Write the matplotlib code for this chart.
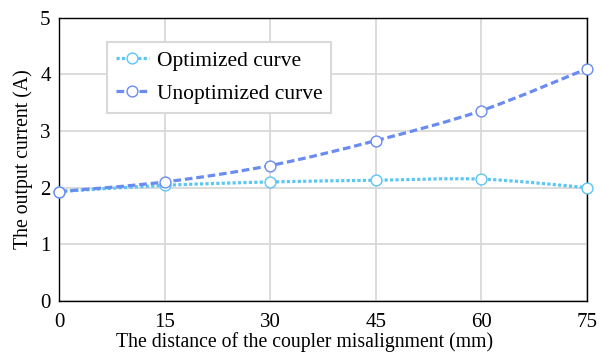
import matplotlib
matplotlib.use("Agg")
import matplotlib.pyplot as plt
from matplotlib.path import Path
from matplotlib.patches import PathPatch
from matplotlib.lines import Line2D

# data
distance = [0, 15, 30, 45, 60, 75]
optimized = [1.93, 2.04, 2.10, 2.13, 2.15, 2.00]
unoptimized = [1.93, 2.10, 2.39, 2.83, 3.36, 4.10]

plt.rcParams['font.family'] = ['Liberation Serif', 'DejaVu Serif']


def smooth_path(xs, ys, k=1/6):
    # bezier path through the points (like a spreadsheet "smoothed line")
    verts = [(xs[0], ys[0])]
    codes = [Path.MOVETO]
    n = len(xs)
    for i in range(n - 1):
        x0, y0 = xs[max(i - 1, 0)], ys[max(i - 1, 0)]
        x1, y1 = xs[i], ys[i]
        x2, y2 = xs[i + 1], ys[i + 1]
        x3, y3 = xs[min(i + 2, n - 1)], ys[min(i + 2, n - 1)]
        c1 = (x1 + (x2 - x0) * k, y1 + (y2 - y0) * k)
        c2 = (x2 - (x3 - x1) * k, y2 - (y3 - y1) * k)
        verts += [c1, c2, (x2, y2)]
        codes += [Path.CURVE4] * 3
    return Path(verts, codes)


fig, ax = plt.subplots(figsize=(6.02, 3.56), dpi=100)
fig.subplots_adjust(left=0.098, right=0.975, top=0.95, bottom=0.155)

c_opt = '#5cc6f4'
c_un = '#6a8cf0'

series = [(optimized, c_opt, (0, (1.0, 0.7)), 'Optimized curve'),
          (unoptimized, c_un, (0, (2.4, 1.2)), 'Unoptimized curve')]
handles = []
for ys, col, ls, lab in series:
    patch = PathPatch(smooth_path(distance, ys), facecolor='none', edgecolor=col,
                      linewidth=2.3, linestyle=ls, zorder=3)
    ax.add_patch(patch)
    ax.plot(distance, ys, linestyle='none', marker='o', markersize=7.8,
            markerfacecolor='white', markeredgecolor=col, markeredgewidth=1.0,
            zorder=4, clip_on=False)
    handles.append(Line2D([], [], color=col, linewidth=2.3, linestyle=ls,
                          marker='o', markersize=7.8, markerfacecolor='white',
                          markeredgecolor=col, markeredgewidth=1.0, label=lab))

ax.set_xlim(0, 75)
ax.set_ylim(0, 5)
ax.set_xticks(distance)
ax.set_yticks([0, 1, 2, 3, 4, 5])
ax.grid(True, color='#d9d9d9', linewidth=1.3)
ax.set_axisbelow(True)
for s in ax.spines.values():
    s.set_color('black')
    s.set_linewidth(1.0)
ax.tick_params(length=0, labelsize=15, pad=6)
ax.tick_params(axis='x', pad=9)
ax.set_xlabel('The distance of the coupler misalignment (mm)', fontsize=14.2,
              labelpad=0, x=0.466)
ax.set_ylabel('The output current (A)', fontsize=14.2, labelpad=5)

leg = ax.legend(handles=handles, loc='upper left', bbox_to_anchor=(0.091, 0.915),
                fontsize=15.5, fancybox=False, framealpha=1, edgecolor='#d9d9d9',
                handlelength=1.55, handletextpad=0.35, borderpad=0.4,
                labelspacing=0.62, borderaxespad=0)
leg.get_frame().set_linewidth(1.5)

fig.savefig('out.png', dpi=100)
